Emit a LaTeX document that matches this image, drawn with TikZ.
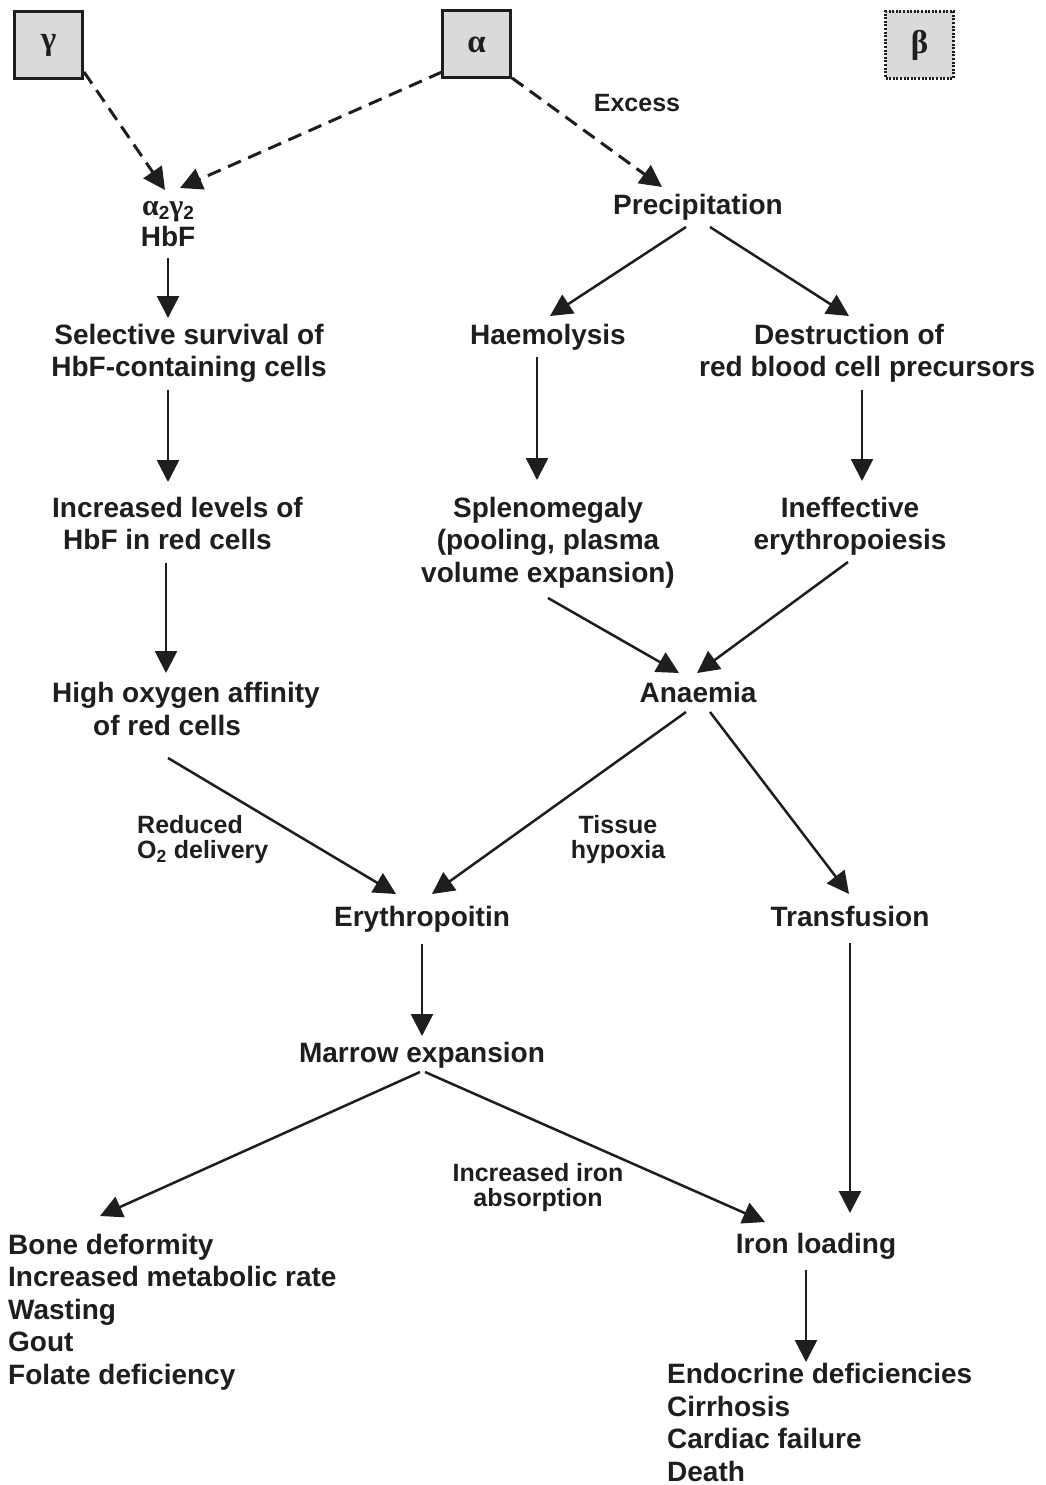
\documentclass[tikz,border=0pt]{standalone}
\usepackage{fontspec}
\setmainfont{Liberation Sans}
\newfontfamily\grk{Liberation Serif}
\usetikzlibrary{arrows.meta}
\definecolor{ink}{RGB}{30,30,30}
\definecolor{boxfill}{RGB}{218,218,218}
\begin{document}
\begin{tikzpicture}[x=1pt,y=-1pt,
  txt/.style={font=\fontsize{28}{32.5}\selectfont\bfseries, text=ink, inner sep=0pt, align=center},
  txtl/.style={txt, align=left, anchor=west},
  lab/.style={font=\fontsize{25}{25}\selectfont\bfseries, text=ink, inner sep=0pt, align=center},
  gene/.style={draw=ink, line width=3pt, fill=boxfill, minimum width=68pt, minimum height=67pt, inner sep=0pt, font=\grk\bfseries\fontsize{33}{33}\selectfont, text=ink},
  arr/.style={-{Triangle[length=22pt,width=22pt]}, line width=2.5pt, draw=ink},
  darr/.style={arr, dash pattern=on 14pt off 8pt, line width=3pt}]
\useasboundingbox (0,0) rectangle (1046,1485);
\fill[white] (0,0) rectangle (1046,1485);

% gene boxes
\node[gene] (gam) at (48.5,45) {γ};
\node[gene] (alp) at (476.5,44.5) {α};
\node[gene, draw=ink, line width=2.5pt, dash pattern=on 2pt off 1.6pt] (bet) at (919.5,45) {β};

% nodes
\node[txt] (hbf) at (168,224) {{\grk\fontsize{30}{30}\selectfont α}\raisebox{-4pt}{\fontsize{19}{19}\selectfont 2}{\grk\fontsize{30}{30}\selectfont γ}\raisebox{-4pt}{\fontsize{19}{19}\selectfont 2}\\[-2pt]HbF};
\node[txt] (prec) at (698,207) {Precipitation};
\node[txt] (sel) at (189,353.5) {Selective survival of\\HbF-containing cells};
\node[txtl] (inc) at (52,523.5) {Increased levels of\\\hspace*{11pt}HbF in red cells};
\node[txtl] (high) at (52,709) {High oxygen affinity\\\hspace*{41pt}of red cells};
\node[txt] (haem) at (548,337) {Haemolysis};
\node[txtl] (dest) at (699,353.5) {\hspace*{55pt}Destruction of\\red blood cell precursors};
\node[txt] (spl) at (548,542.5) {Splenomegaly\\(pooling, plasma\\volume expansion)};
\node[txt] (ineff) at (850,526.5) {Ineffective\\erythropoiesis};
\node[txt] (anae) at (698,692) {Anaemia};
\node[txt] (ery) at (422,919) {Erythropoitin};
\node[txt] (trans) at (850,916) {Transfusion};
\node[txt] (marrow) at (422,1055) {Marrow expansion};
\node[txt] (ironload) at (816,1246) {Iron loading};
\node[txtl] (bone) at (8,1312) {Bone deformity\\Increased metabolic rate\\Wasting\\Gout\\Folate deficiency};
\node[txtl] (endo) at (667,1422.5) {Endocrine deficiencies\\Cirrhosis\\Cardiac failure\\Death};

% labels
\node[lab] (excess) at (637,103) {Excess};
\node[lab, align=left, anchor=west] (reduced) at (137,839.5) {Reduced\\O\textsubscript{2} delivery};
\node[lab] (tissue) at (618,839.5) {Tissue\\hypoxia};
\node[lab] (ironlab) at (538,1187.5) {Increased iron\\absorption};

% connectors
\draw[darr] ([shift={(35.5,27)}]gam.center) -- ([shift={(-3,-34)}]hbf.center);
\draw[darr] ([shift={(-34.5,27.5)}]alp.center) -- ([shift={(12,-36)}]hbf.center);
\draw[darr] ([shift={(35.5,33.5)}]alp.center) -- ([shift={(-36,-20)}]prec.center);
\draw[arr] ([shift={(0,34)}]hbf.center) -- ([shift={(-21,-35.5)}]sel.center);
\draw[arr] ([shift={(-21,36.5)}]sel.center) -- ([shift={(116,-41.5)}]inc.west);
\draw[arr] ([shift={(114,39.5)}]inc.west) -- ([shift={(114,-36)}]high.west);
\draw[arr] ([shift={(116,49)}]high.west) -- ([shift={(-26,-25)}]ery.center);
\draw[arr] ([shift={(-12,20)}]prec.center) -- ([shift={(2,-21)}]haem.center);
\draw[arr] ([shift={(12,20)}]prec.center) -- ([shift={(150,-37.5)}]dest.west);
\draw[arr] ([shift={(-11,20)}]haem.center) -- ([shift={(-11,-62.5)}]spl.center);
\draw[arr] ([shift={(163,36.5)}]dest.west) -- ([shift={(12,-45.5)}]ineff.center);
\draw[arr] ([shift={(0,55.5)}]spl.center) -- ([shift={(-19,-19)}]anae.center);
\draw[arr] ([shift={(-2,35.5)}]ineff.center) -- ([shift={(-1,-19)}]anae.center);
\draw[arr] ([shift={(-12,20)}]anae.center) -- ([shift={(10,-25)}]ery.center);
\draw[arr] ([shift={(12,20)}]anae.center) -- ([shift={(-1,-22)}]trans.center);
\draw[arr] ([shift={(0,25)}]ery.center) -- ([shift={(0,-19)}]marrow.center);
\draw[arr] ([shift={(-2,17)}]marrow.center) -- ([shift={(92,-96)}]bone.west);
\draw[arr] ([shift={(3,17)}]marrow.center) -- ([shift={(-51,-24)}]ironload.center);
\draw[arr] ([shift={(0,27)}]trans.center) -- ([shift={(34,-33)}]ironload.center);
\draw[arr] ([shift={(-10,24)}]ironload.center) -- ([shift={(139,-60.5)}]endo.west);
\end{tikzpicture}
\end{document}
